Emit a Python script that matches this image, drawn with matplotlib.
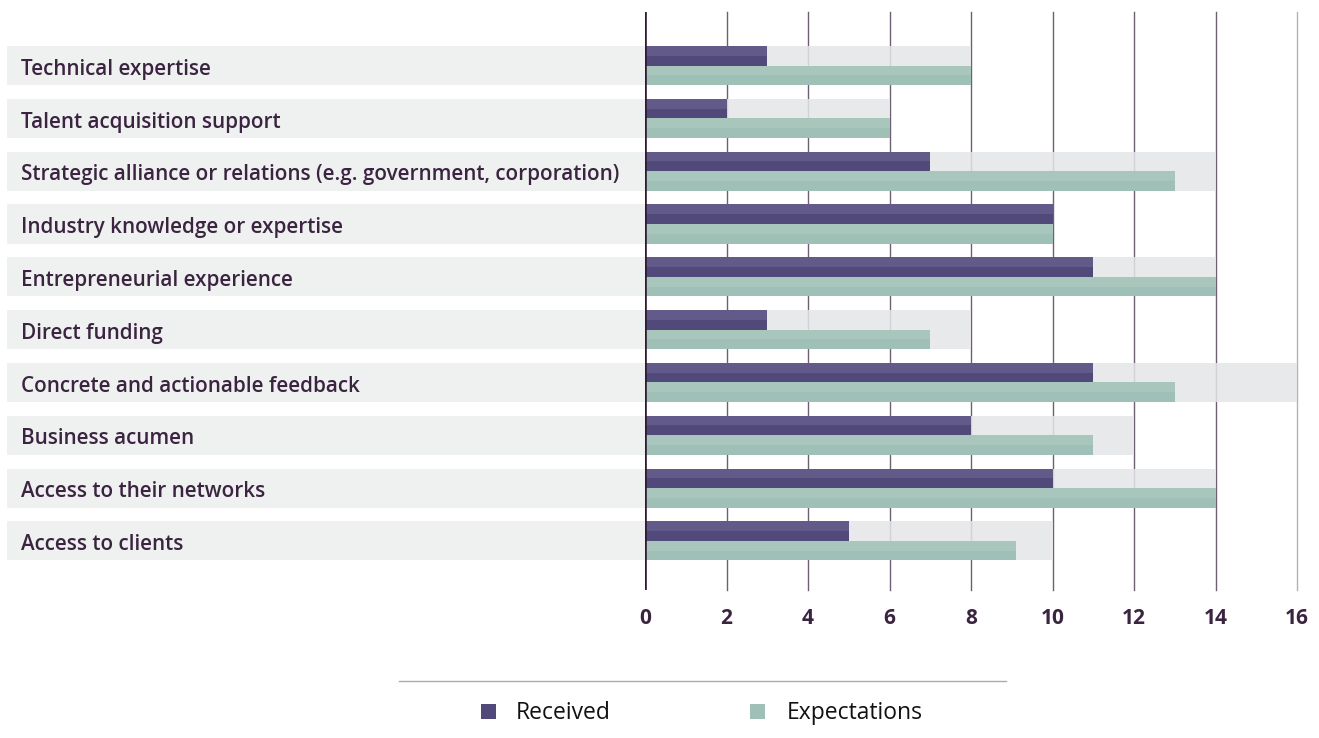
import matplotlib
matplotlib.use("Agg")
import matplotlib.pyplot as plt
from matplotlib.patches import Rectangle
import matplotlib.transforms as mtransforms

categories = [
    "Technical expertise",
    "Talent acquisition support",
    "Strategic alliance or relations (e.g. government, corporation)",
    "Industry knowledge or expertise",
    "Entrepreneurial experience",
    "Direct funding",
    "Concrete and actionable feedback",
    "Business acumen",
    "Access to their networks",
    "Access to clients",
]
received = [3, 2, 7, 10, 11, 3, 11, 8, 10, 5]
expectations = [8, 6, 13, 10, 14, 7, 13, 11, 14, 9.1]
band_extent = [8, 6, 14, 10, 14, 8, 16, 12, 14, 10]
x_ticks = [0, 2, 4, 6, 8, 10, 12, 14, 16]

REC_DARK, REC_LIGHT = "#504979", "#625a88"
EXP_DARK, EXP_LIGHT = "#9fc0b6", "#a9c6bd"
TEXT = "#3a2440"

plt.rcParams["font.family"] = ["Open Sans", "DejaVu Sans"]

W, H = 1319, 738
fig = plt.figure(figsize=(W / 100, H / 100), dpi=100)
ax = fig.add_axes([645 / W, 1 - 590 / H, 652 / W, 578 / H])
ax.set_xlim(0, 16)
ax.set_ylim(9.93, -1.013)
for s in ax.spines.values():
    s.set_visible(False)
ax.set_yticks([])
ax.set_xticks(x_ticks)
ax.tick_params(axis="x", length=0, pad=13, labelsize=15, labelcolor=TEXT)
for lbl in ax.get_xticklabels():
    lbl.set_fontweight("bold")

# vertical grid
for t in x_ticks[1:]:
    ax.axvline(t, color="#b9aebd" if t == 16 else "#6e5f73", lw=1.0, zorder=1,
               clip_on=False)

band_h = 0.74
bar_h = band_h / 2
# label-side band: x in figure fraction, y in data units
trans = mtransforms.blended_transform_factory(fig.transFigure, ax.transData)
for i, name in enumerate(categories):
    ax.add_patch(Rectangle((7 / W, i - band_h / 2), (645 - 7) / W, band_h,
                           transform=trans, facecolor="#eff0f0", edgecolor="none",
                           clip_on=False, zorder=0))
    fig.text(21 / W, i + 0.07, name, transform=trans, fontsize=14.9,
             fontweight="semibold", color=TEXT, va="center")
    # light background band up to extent
    ax.barh(i, band_extent[i], height=band_h, left=0, color="#e5e6e7", alpha=0.85,
            zorder=2, edgecolor="none")
    # received bar (upper half), two-tone
    top = i - band_h / 2
    ax.barh(top + bar_h / 2, received[i], height=bar_h, color=REC_DARK, zorder=3, edgecolor="none")
    ax.barh(top + bar_h / 4, received[i], height=bar_h / 2, color=REC_LIGHT, zorder=3, edgecolor="none")
    # expectations bar (lower half), two-tone
    ax.barh(i + bar_h / 2, expectations[i], height=bar_h, color=EXP_DARK, zorder=3, edgecolor="none")
    ax.barh(i + bar_h / 4, expectations[i], height=bar_h / 2, color=EXP_LIGHT, zorder=3, edgecolor="none")

ax.axvline(0, color="#2e1a33", lw=2.6, zorder=5)

# legend
fig.add_artist(plt.Line2D([399 / W, 1006 / W], [1 - 681 / H, 1 - 681 / H],
                          color="#b3a4ba", lw=1))
fig.add_artist(Rectangle((481 / W, 1 - 719 / H), 15 / W, 15 / H, facecolor=REC_DARK,
                         edgecolor="none", transform=fig.transFigure))
fig.text(516 / W, 1 - 713 / H, "Received", fontsize=16.5, color="#111111", va="center")
fig.add_artist(Rectangle((750 / W, 1 - 719 / H), 15 / W, 15 / H, facecolor=EXP_DARK,
                         edgecolor="none", transform=fig.transFigure))
fig.text(787 / W, 1 - 713 / H, "Expectations", fontsize=16.5, color="#111111", va="center")

fig.savefig("out.png", dpi=100, facecolor="white")
